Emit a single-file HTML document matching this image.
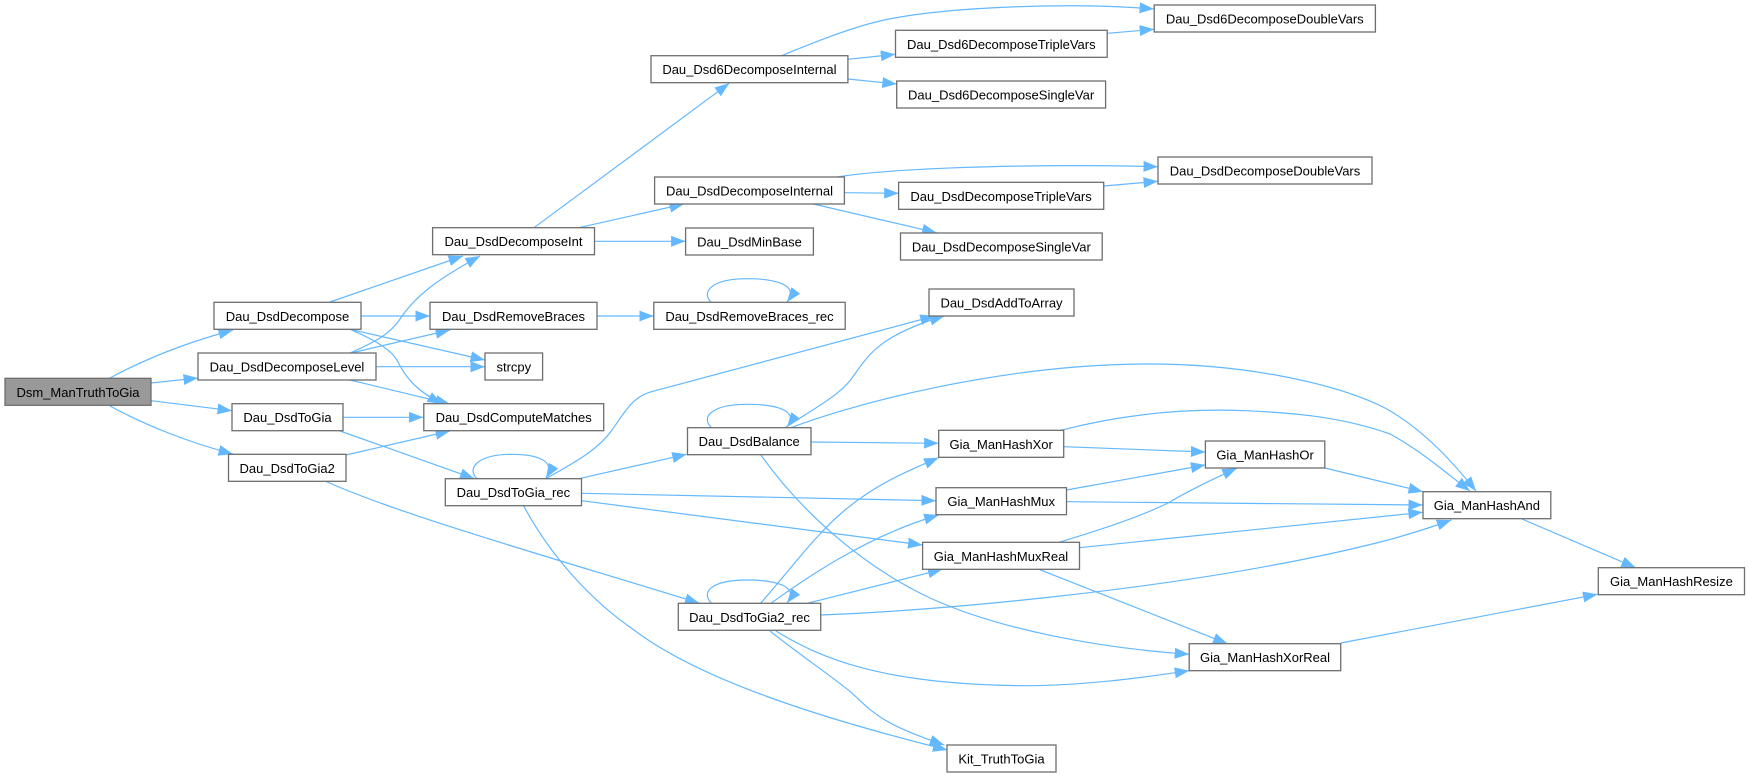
<!DOCTYPE html>
<html><head><meta charset="utf-8"><style>
html,body{margin:0;padding:0;background:#fff;width:1749px;height:777px;overflow:hidden}
svg{display:block}
.e path{fill:none;stroke:#63b8ff;stroke-width:1.2;marker-end:url(#a)}
.n rect{fill:#fff;stroke:#6e6e6e;stroke-width:1.3}
.n rect.g{fill:#999}
.n text{font-family:"Liberation Sans",Arial,sans-serif;font-size:13px;fill:#000;text-anchor:middle}
</style></head><body>
<svg width="1749" height="777" viewBox="0 0 1749 777" xmlns="http://www.w3.org/2000/svg">
<defs><marker id="a" markerUnits="userSpaceOnUse" markerWidth="16" markerHeight="13" refX="14.5" refY="5.5" orient="auto"><path d="M0,0L14.5,5.5L0,11z" fill="#63b8ff"/></marker></defs>
<g class="e">
<path d="M110,378C145,359 185,343 233,330"/>
<path d="M151,383L198,378"/>
<path d="M151,400.7L232,410.7"/>
<path d="M110,406C145,425 190,443 233,454"/>
<path d="M330,302L463,256"/>
<path d="M350,353C375,342 388,335 398,322C415,295 440,278 480,256"/>
<path d="M361,316L430,316"/>
<path d="M351,353L450,330"/>
<path d="M350,329.3L485,360"/>
<path d="M376,366.7L485,366.7"/>
<path d="M350,329.3C375,340 392,350 398,362C408,382 420,392 442,404"/>
<path d="M350,380L450,404"/>
<path d="M343,417.3L423.3,417.3"/>
<path d="M346,455L450,431"/>
<path d="M340,431L474.5,478.7"/>
<path d="M325,481C400,515 560,560 699.4,603.3"/>
<path d="M477,478.7C466,468 478,454.3 512,454.3C535,454.3 557,460 546,478"/>
<path d="M711.6,302.7C700,292 712,278.7 747,278.7C775,278.7 800,285 787,302"/>
<path d="M711.6,427.7C700,417 712,404.3 747,404.3C775,404.3 800,410 787,427"/>
<path d="M711.6,603.3C700,592 712,580 747,580C775,580 800,586 787,603"/>
<path d="M534,227.7L729.2,83.3"/>
<path d="M578.8,227.7L684,204"/>
<path d="M594.5,241.3L685.6,241.3"/>
<path d="M781.6,55.7C815,42 850,28 880,21C940,7 1070,2 1154,9"/>
<path d="M847.9,59.3L895.3,54.3"/>
<path d="M847.9,79L896.8,84"/>
<path d="M1107.2,33.3L1154.2,29.3"/>
<path d="M837,177C880,170 1000,163 1158,166.7"/>
<path d="M844.4,192.7L898.7,193.3"/>
<path d="M813.4,204L936.6,232.7"/>
<path d="M1103.7,186L1158,181.3"/>
<path d="M597,316L653.8,316"/>
<path d="M546,478.7C575,462 598,450 612,430C625,412 632,397 651.5,391.7L934.7,316"/>
<path d="M785,427.7C815,408 840,395 852,378C868,355 880,335 944.3,316"/>
<path d="M791,427.7C850,405 1000,364 1149,364C1250,364 1340,385 1385,408C1425,430 1455,465 1476,491"/>
<path d="M811,442L938.6,443.3"/>
<path d="M760.6,454.7C800,510 860,565 930,598C1000,630 1100,648 1189.2,654.3"/>
<path d="M776,631C820,658 880,684 1020,685.7C1080,686 1140,678 1189.2,670.7"/>
<path d="M578.8,478.7L686.7,454.3"/>
<path d="M581.5,493.3L935.9,500.7"/>
<path d="M581.5,500.7L922.5,545"/>
<path d="M523.3,505.3C550,555 590,600 634,630C700,680 820,718 947.4,750"/>
<path d="M770,631C800,655 830,675 852,693C875,715 885,725 944.3,745"/>
<path d="M760.6,603.3C790,570 815,535 845,510C875,485 905,472 938.6,457.7"/>
<path d="M771,603.3C810,575 870,535 938.6,515"/>
<path d="M807.3,603.3L942.4,569.3"/>
<path d="M820.7,615C950,610 1150,590 1300,560C1370,546 1410,535 1451.3,520"/>
<path d="M1060.7,430.3C1120,415 1180,408 1245,410.7C1300,413 1345,418 1390,434C1420,450 1445,472 1470,491"/>
<path d="M1063.8,446.7L1205.4,452"/>
<path d="M1066.5,490L1205.4,465"/>
<path d="M1066.5,501.7L1422.8,505"/>
<path d="M1058.8,542.3C1100,530 1140,517 1168,503C1190,490 1215,478 1236.8,468.3"/>
<path d="M1079.5,547.7L1422.8,512.3"/>
<path d="M1038.9,569.3L1227.5,643.7"/>
<path d="M1324.8,468L1423,491.7"/>
<path d="M1522,519L1635.8,567.7"/>
<path d="M1340.7,643L1597.5,594.3"/>
</g>
<g class="n">
<rect class="g" x="5" y="378.3" width="146" height="27"/><text x="78" y="396.8">Dsm_ManTruthToGia</text>
<rect x="214" y="302.3" width="147" height="27"/><text x="287.5" y="320.8">Dau_DsdDecompose</text>
<rect x="198" y="353" width="178" height="27"/><text x="287" y="371.5">Dau_DsdDecomposeLevel</text>
<rect x="232" y="403.7" width="111" height="27"/><text x="287.5" y="422.2">Dau_DsdToGia</text>
<rect x="228.5" y="454.3" width="117.5" height="27"/><text x="287.2" y="472.8">Dau_DsdToGia2</text>
<rect x="430" y="302.3" width="167" height="27"/><text x="513.5" y="320.8">Dau_DsdRemoveBraces</text>
<rect x="485" y="353" width="57.6" height="27"/><text x="513.8" y="371.5">strcpy</text>
<rect x="423.8" y="403.7" width="179.9" height="27"/><text x="513.7" y="422.2">Dau_DsdComputeMatches</text>
<rect x="445.3" y="478.7" width="136.2" height="27"/><text x="513.4" y="497.2">Dau_DsdToGia_rec</text>
<rect x="653.8" y="302.3" width="191.4" height="27"/><text x="749.5" y="320.8">Dau_DsdRemoveBraces_rec</text>
<rect x="929" y="289" width="145" height="27"/><text x="1001.5" y="307.5">Dau_DsdAddToArray</text>
<rect x="687.5" y="427.7" width="123.5" height="27"/><text x="749.2" y="446.2">Dau_DsdBalance</text>
<rect x="938.7" y="430.3" width="125" height="27"/><text x="1001.2" y="448.8">Gia_ManHashXor</text>
<rect x="1205.4" y="441" width="119.4" height="27"/><text x="1265.1" y="459.5">Gia_ManHashOr</text>
<rect x="936" y="487.7" width="130.5" height="27"/><text x="1001.2" y="506.2">Gia_ManHashMux</text>
<rect x="922.6" y="542.3" width="156.9" height="27"/><text x="1001" y="560.8">Gia_ManHashMuxReal</text>
<rect x="1423" y="491.7" width="127.8" height="27"/><text x="1486.9" y="510.2">Gia_ManHashAnd</text>
<rect x="1598.3" y="567.7" width="146.2" height="27"/><text x="1671.4" y="586.2">Gia_ManHashResize</text>
<rect x="1189.2" y="643.7" width="151.5" height="27"/><text x="1265" y="662.2">Gia_ManHashXorReal</text>
<rect x="947" y="745" width="109" height="27"/><text x="1001.5" y="763.5">Kit_TruthToGia</text>
<rect x="678.3" y="603.3" width="142.4" height="27"/><text x="749.5" y="621.8">Dau_DsdToGia2_rec</text>
<rect x="432.6" y="227.7" width="161.9" height="27"/><text x="513.5" y="246.2">Dau_DsdDecomposeInt</text>
<rect x="685.6" y="228" width="127.8" height="27"/><text x="749.5" y="246.5">Dau_DsdMinBase</text>
<rect x="651" y="55.7" width="196.9" height="27"/><text x="749.4" y="74.2">Dau_Dsd6DecomposeInternal</text>
<rect x="654.6" y="177" width="189.8" height="27"/><text x="749.5" y="195.5">Dau_DsdDecomposeInternal</text>
<rect x="1154.2" y="5" width="221.2" height="27"/><text x="1264.8" y="23.5">Dau_Dsd6DecomposeDoubleVars</text>
<rect x="895.5" y="30.3" width="211.7" height="27"/><text x="1001.3" y="48.8">Dau_Dsd6DecomposeTripleVars</text>
<rect x="896.7" y="81" width="208.9" height="27"/><text x="1001.1" y="99.5">Dau_Dsd6DecomposeSingleVar</text>
<rect x="1158" y="157" width="214" height="27"/><text x="1265" y="175.5">Dau_DsdDecomposeDoubleVars</text>
<rect x="898.6" y="182.3" width="205.1" height="27"/><text x="1001.1" y="200.8">Dau_DsdDecomposeTripleVars</text>
<rect x="900.5" y="233" width="201.7" height="27"/><text x="1001.3" y="251.5">Dau_DsdDecomposeSingleVar</text>
</g>
</svg>
</body></html>
